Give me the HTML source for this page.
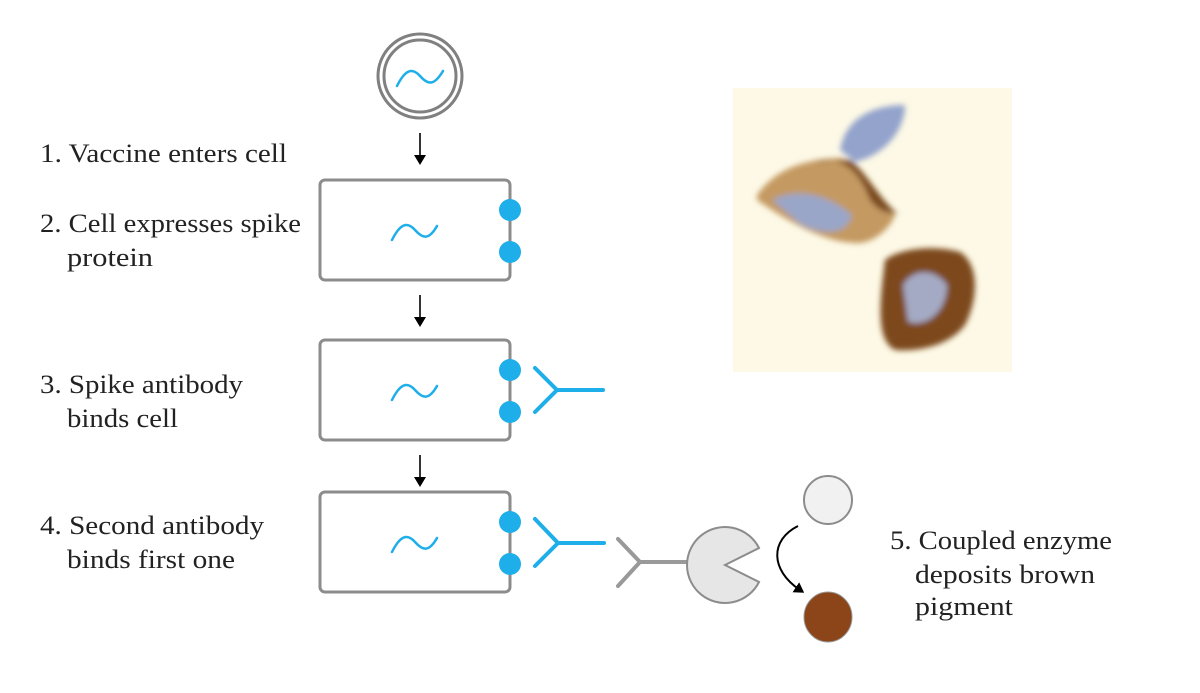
<!DOCTYPE html>
<html><head><meta charset="utf-8"><style>
html,body{margin:0;padding:0;background:#fff;}
body{width:1200px;height:693px;position:relative;overflow:hidden;}
svg{position:absolute;left:0;top:0;}
text{font-family:"Liberation Serif",serif;font-size:26px;fill:#222;}
</style></head><body>
<svg width="1200" height="693" viewBox="0 0 1200 693">
<defs>
<marker id="ah" markerWidth="10" markerHeight="12" refX="5" refY="6" orient="auto" markerUnits="userSpaceOnUse">
<path d="M0,0 L10,6 L0,12 z" fill="#000"/></marker>
<filter id="bl" x="-20%" y="-20%" width="140%" height="140%"><feGaussianBlur stdDeviation="3"/></filter>
</defs>
<!-- vaccine -->
<circle cx="420" cy="76" r="42" fill="#fff" stroke="#808080" stroke-width="3"/>
<circle cx="420" cy="76" r="36" fill="none" stroke="#808080" stroke-width="3"/>
<path d="M397,86 C405,70 412,67 420,76 S434,86 443,71" fill="none" stroke="#1eaee9" stroke-width="2.5" stroke-linecap="round"/>
<!-- arrows -->
<g stroke="#000" stroke-width="1.6">
<line x1="420" y1="133" x2="420" y2="160" marker-end="url(#ah)"/>
<line x1="420" y1="295" x2="420" y2="322" marker-end="url(#ah)"/>
<line x1="420" y1="455" x2="420" y2="482" marker-end="url(#ah)"/>
</g>
<!-- cells -->
<g fill="#fff" stroke="#8c8c8c" stroke-width="3">
<rect x="320" y="180" width="190" height="100" rx="5"/>
<rect x="320" y="340" width="190" height="100" rx="5"/>
<rect x="320" y="492" width="190" height="100" rx="5"/>
</g>
<g fill="none" stroke="#1eaee9" stroke-width="2.5" stroke-linecap="round">
<path d="M392,240 C400,224 407,221 415,230 S429,240 437,226"/>
<path d="M392,400 C400,384 407,381 415,390 S429,400 437,386"/>
<path d="M392,552 C400,536 407,533 415,542 S429,552 437,538"/>
</g>
<g fill="#1eaee9">
<circle cx="510" cy="210" r="11"/><circle cx="510" cy="252" r="11"/>
<circle cx="510" cy="370" r="11"/><circle cx="510" cy="412" r="11"/>
<circle cx="510" cy="522" r="11"/><circle cx="510" cy="564" r="11"/>
</g>
<!-- blue antibodies -->
<g fill="none" stroke="#1eaee9" stroke-width="4" stroke-linecap="round">
<path d="M535,368 L557,390 L535,412 M557,390 L603,390"/>
<path d="M535,519 L558,543 L535,566 M558,543 L604,543"/>
</g>
<!-- gray antibody -->
<g fill="none" stroke="#999" stroke-width="4" stroke-linecap="round">
<path d="M618,539 L640,562 L618,586 M640,562 L690,562"/>
</g>
<!-- pacman -->
<path d="M725,565 L759,548 A38,38 0 1 0 759,582 Z" fill="#e6e6e6" stroke="#8c8c8c" stroke-width="2"/>
<circle cx="828" cy="500" r="24" fill="#f1f1f1" stroke="#8c8c8c" stroke-width="2"/>
<ellipse cx="828" cy="617" rx="24" ry="25" fill="#8b4519" stroke="#999" stroke-width="1"/>
<path d="M798,526 C770,540 770,570 800,590" fill="none" stroke="#000" stroke-width="2" marker-end="url(#ah)"/>
<!-- photo -->
<rect x="733" y="88" width="279" height="284" fill="#fdf9e6"/>
<g filter="url(#bl)">
<path d="M840,150 C845,120 870,105 905,105 C905,130 885,155 855,162 Z" fill="#93a3cc"/>
<path d="M757,195 C775,170 800,160 840,158 C860,162 870,190 895,215 C890,230 870,245 855,243 C830,242 800,230 757,200 Z" fill="#c49a62"/>
<path d="M772,200 C795,188 825,192 852,215 C848,232 830,238 800,224 Z" fill="#9aa6c8"/>
<path d="M812,162 C840,155 858,168 870,200 C882,215 890,212 898,214 C880,200 865,170 850,160 Z" fill="#7a4a1c"/>
<path d="M885,260 C900,248 935,245 960,252 C980,265 978,300 965,325 C950,345 920,352 895,350 C875,340 880,300 885,260 Z" fill="#7d4a1c"/>
<path d="M903,285 C913,268 935,268 947,285 C947,308 930,328 908,322 Z" fill="#a4aac4"/>
</g>
<!-- labels -->
<g>
<text x="40" y="162" textLength="247" lengthAdjust="spacingAndGlyphs">1. Vaccine enters cell</text>
<text x="40" y="232" textLength="261" lengthAdjust="spacingAndGlyphs">2. Cell expresses spike</text>
<text x="67" y="266" textLength="86" lengthAdjust="spacingAndGlyphs">protein</text>
<text x="40" y="393" textLength="203" lengthAdjust="spacingAndGlyphs">3. Spike antibody</text>
<text x="67" y="427" textLength="111" lengthAdjust="spacingAndGlyphs">binds cell</text>
<text x="40" y="534" textLength="224" lengthAdjust="spacingAndGlyphs">4. Second antibody</text>
<text x="67" y="568" textLength="168" lengthAdjust="spacingAndGlyphs">binds first one</text>
<text x="890" y="549" textLength="222" lengthAdjust="spacingAndGlyphs">5. Coupled enzyme</text>
<text x="915" y="583" textLength="180" lengthAdjust="spacingAndGlyphs">deposits brown</text>
<text x="915" y="615" textLength="98" lengthAdjust="spacingAndGlyphs">pigment</text>
</g>
</svg>
</body></html>
